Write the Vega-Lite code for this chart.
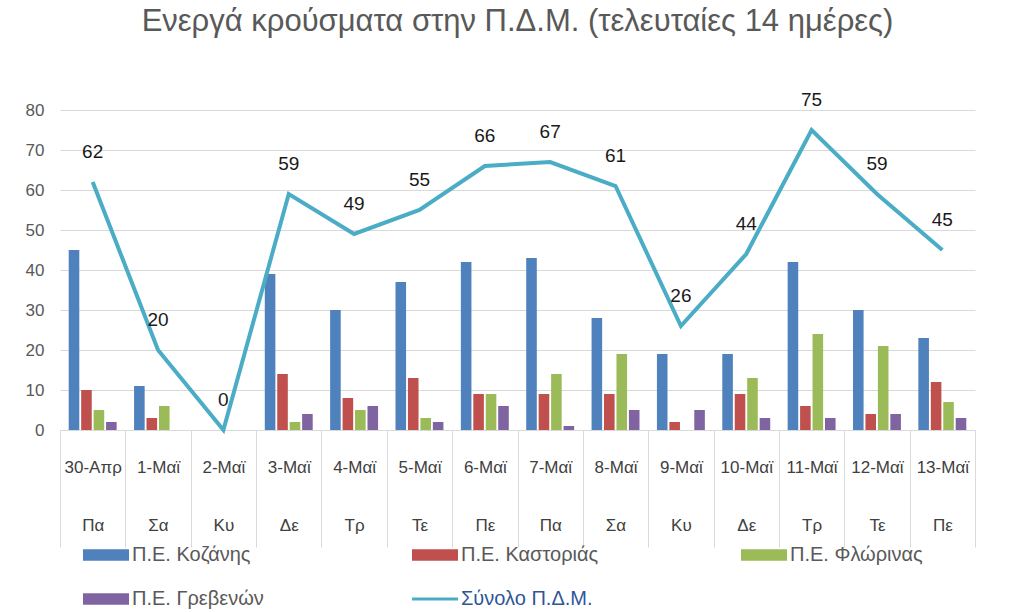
{
  "$schema": "https://vega.github.io/schema/vega-lite/v6.json",
  "autosize": {"type": "none"},
  "padding": {"left": 60, "top": 110, "right": 49, "bottom": 182},
  "width": 915,
  "height": 320,
  "background": "white",
  "title": {
    "text": "Ενεργά κρούσματα στην Π.Δ.Μ. (τελευταίες 14 ημέρες)",
    "font": "Liberation Sans",
    "fontSize": 31,
    "fontWeight": "normal",
    "color": "#595959",
    "anchor": "middle",
    "offset": 53
  },
  "datasets": {
    "regions": [
      {"date": "30-Απρ|Πα", "region": "Π.Ε. Κοζάνης", "value": 45},
      {"date": "30-Απρ|Πα", "region": "Π.Ε. Καστοριάς", "value": 10},
      {"date": "30-Απρ|Πα", "region": "Π.Ε. Φλώρινας", "value": 5},
      {"date": "30-Απρ|Πα", "region": "Π.Ε. Γρεβενών", "value": 2},
      {"date": "1-Μαϊ|Σα", "region": "Π.Ε. Κοζάνης", "value": 11},
      {"date": "1-Μαϊ|Σα", "region": "Π.Ε. Καστοριάς", "value": 3},
      {"date": "1-Μαϊ|Σα", "region": "Π.Ε. Φλώρινας", "value": 6},
      {"date": "1-Μαϊ|Σα", "region": "Π.Ε. Γρεβενών", "value": 0},
      {"date": "2-Μαϊ|Κυ", "region": "Π.Ε. Κοζάνης", "value": 0},
      {"date": "2-Μαϊ|Κυ", "region": "Π.Ε. Καστοριάς", "value": 0},
      {"date": "2-Μαϊ|Κυ", "region": "Π.Ε. Φλώρινας", "value": 0},
      {"date": "2-Μαϊ|Κυ", "region": "Π.Ε. Γρεβενών", "value": 0},
      {"date": "3-Μαϊ|Δε", "region": "Π.Ε. Κοζάνης", "value": 39},
      {"date": "3-Μαϊ|Δε", "region": "Π.Ε. Καστοριάς", "value": 14},
      {"date": "3-Μαϊ|Δε", "region": "Π.Ε. Φλώρινας", "value": 2},
      {"date": "3-Μαϊ|Δε", "region": "Π.Ε. Γρεβενών", "value": 4},
      {"date": "4-Μαϊ|Τρ", "region": "Π.Ε. Κοζάνης", "value": 30},
      {"date": "4-Μαϊ|Τρ", "region": "Π.Ε. Καστοριάς", "value": 8},
      {"date": "4-Μαϊ|Τρ", "region": "Π.Ε. Φλώρινας", "value": 5},
      {"date": "4-Μαϊ|Τρ", "region": "Π.Ε. Γρεβενών", "value": 6},
      {"date": "5-Μαϊ|Τε", "region": "Π.Ε. Κοζάνης", "value": 37},
      {"date": "5-Μαϊ|Τε", "region": "Π.Ε. Καστοριάς", "value": 13},
      {"date": "5-Μαϊ|Τε", "region": "Π.Ε. Φλώρινας", "value": 3},
      {"date": "5-Μαϊ|Τε", "region": "Π.Ε. Γρεβενών", "value": 2},
      {"date": "6-Μαϊ|Πε", "region": "Π.Ε. Κοζάνης", "value": 42},
      {"date": "6-Μαϊ|Πε", "region": "Π.Ε. Καστοριάς", "value": 9},
      {"date": "6-Μαϊ|Πε", "region": "Π.Ε. Φλώρινας", "value": 9},
      {"date": "6-Μαϊ|Πε", "region": "Π.Ε. Γρεβενών", "value": 6},
      {"date": "7-Μαϊ|Πα", "region": "Π.Ε. Κοζάνης", "value": 43},
      {"date": "7-Μαϊ|Πα", "region": "Π.Ε. Καστοριάς", "value": 9},
      {"date": "7-Μαϊ|Πα", "region": "Π.Ε. Φλώρινας", "value": 14},
      {"date": "7-Μαϊ|Πα", "region": "Π.Ε. Γρεβενών", "value": 1},
      {"date": "8-Μαϊ|Σα", "region": "Π.Ε. Κοζάνης", "value": 28},
      {"date": "8-Μαϊ|Σα", "region": "Π.Ε. Καστοριάς", "value": 9},
      {"date": "8-Μαϊ|Σα", "region": "Π.Ε. Φλώρινας", "value": 19},
      {"date": "8-Μαϊ|Σα", "region": "Π.Ε. Γρεβενών", "value": 5},
      {"date": "9-Μαϊ|Κυ", "region": "Π.Ε. Κοζάνης", "value": 19},
      {"date": "9-Μαϊ|Κυ", "region": "Π.Ε. Καστοριάς", "value": 2},
      {"date": "9-Μαϊ|Κυ", "region": "Π.Ε. Φλώρινας", "value": 0},
      {"date": "9-Μαϊ|Κυ", "region": "Π.Ε. Γρεβενών", "value": 5},
      {"date": "10-Μαϊ|Δε", "region": "Π.Ε. Κοζάνης", "value": 19},
      {"date": "10-Μαϊ|Δε", "region": "Π.Ε. Καστοριάς", "value": 9},
      {"date": "10-Μαϊ|Δε", "region": "Π.Ε. Φλώρινας", "value": 13},
      {"date": "10-Μαϊ|Δε", "region": "Π.Ε. Γρεβενών", "value": 3},
      {"date": "11-Μαϊ|Τρ", "region": "Π.Ε. Κοζάνης", "value": 42},
      {"date": "11-Μαϊ|Τρ", "region": "Π.Ε. Καστοριάς", "value": 6},
      {"date": "11-Μαϊ|Τρ", "region": "Π.Ε. Φλώρινας", "value": 24},
      {"date": "11-Μαϊ|Τρ", "region": "Π.Ε. Γρεβενών", "value": 3},
      {"date": "12-Μαϊ|Τε", "region": "Π.Ε. Κοζάνης", "value": 30},
      {"date": "12-Μαϊ|Τε", "region": "Π.Ε. Καστοριάς", "value": 4},
      {"date": "12-Μαϊ|Τε", "region": "Π.Ε. Φλώρινας", "value": 21},
      {"date": "12-Μαϊ|Τε", "region": "Π.Ε. Γρεβενών", "value": 4},
      {"date": "13-Μαϊ|Πε", "region": "Π.Ε. Κοζάνης", "value": 23},
      {"date": "13-Μαϊ|Πε", "region": "Π.Ε. Καστοριάς", "value": 12},
      {"date": "13-Μαϊ|Πε", "region": "Π.Ε. Φλώρινας", "value": 7},
      {"date": "13-Μαϊ|Πε", "region": "Π.Ε. Γρεβενών", "value": 3}
    ],
    "totals": [
      {"date": "30-Απρ|Πα", "value": 62},
      {"date": "1-Μαϊ|Σα", "value": 20},
      {"date": "2-Μαϊ|Κυ", "value": 0},
      {"date": "3-Μαϊ|Δε", "value": 59},
      {"date": "4-Μαϊ|Τρ", "value": 49},
      {"date": "5-Μαϊ|Τε", "value": 55},
      {"date": "6-Μαϊ|Πε", "value": 66},
      {"date": "7-Μαϊ|Πα", "value": 67},
      {"date": "8-Μαϊ|Σα", "value": 61},
      {"date": "9-Μαϊ|Κυ", "value": 26},
      {"date": "10-Μαϊ|Δε", "value": 44},
      {"date": "11-Μαϊ|Τρ", "value": 75},
      {"date": "12-Μαϊ|Τε", "value": 59},
      {"date": "13-Μαϊ|Πε", "value": 45}
    ]
  },
  "encoding": {
    "x": {
      "field": "date",
      "type": "nominal",
      "scale": {
        "domain": ["30-Απρ|Πα", "1-Μαϊ|Σα", "2-Μαϊ|Κυ", "3-Μαϊ|Δε", "4-Μαϊ|Τρ", "5-Μαϊ|Τε", "6-Μαϊ|Πε", "7-Μαϊ|Πα", "8-Μαϊ|Σα", "9-Μαϊ|Κυ", "10-Μαϊ|Δε", "11-Μαϊ|Τρ", "12-Μαϊ|Τε", "13-Μαϊ|Πε"],
        "paddingInner": 0,
        "paddingOuter": 0
      },
      "axis": {
        "title": null,
        "labelAngle": 0,
        "labelExpr": "isValid(datum.value) ? [split(datum.value, '|')[0], split(datum.value, '|')[1]] : ''",
        "labelLineHeight": 58,
        "labelFont": "Liberation Sans",
        "labelFontSize": 17,
        "labelColor": "#404040",
        "labelOverlap": false,
        "labelLimit": 0,
        "labelPadding": -88,
        "labelBaseline": "top",
        "tickBand": "extent",
        "tickSize": 117,
        "tickColor": "#d9d9d9",
        "domainColor": "#d9d9d9",
        "grid": false
      }
    },
    "y": {
      "field": "value",
      "type": "quantitative",
      "scale": {"domain": [0, 80]},
      "axis": {
        "title": null,
        "values": [0, 10, 20, 30, 40, 50, 60, 70, 80],
        "labelOverlap": false,
        "domain": false,
        "ticks": false,
        "labelPadding": 16,
        "labelFont": "Liberation Sans",
        "labelFontSize": 17,
        "labelColor": "#595959",
        "gridColor": "#d9d9d9"
      }
    }
  },
  "layer": [
    {
      "data": {"name": "regions"},
      "mark": {"type": "bar"},
      "encoding": {
        "xOffset": {
          "field": "region",
          "type": "nominal",
          "scale": {
            "domain": ["Π.Ε. Κοζάνης", "Π.Ε. Καστοριάς", "Π.Ε. Φλώρινας", "Π.Ε. Γρεβενών"],
            "paddingInner": 0.15,
            "paddingOuter": 0.7
          }
        },
        "color": {
          "field": "region",
          "type": "nominal",
          "scale": {
            "domain": ["Π.Ε. Κοζάνης", "Π.Ε. Καστοριάς", "Π.Ε. Φλώρινας", "Π.Ε. Γρεβενών", "Σύνολο Π.Δ.Μ."],
            "range": ["#4f81bd", "#c0504d", "#9bbb59", "#8064a2", "#4bacc6"]
          },
          "legend": {
            "title": null,
            "orient": "none",
            "direction": "horizontal",
            "legendX": 36,
            "legendY": 435,
            "columns": 3,
            "gridAlign": "all",
            "columnPadding": 136,
            "rowPadding": 24,
            "padding": 0,
            "symbolSize": 2116,
            "labelOffset": 16,
            "labelFont": "Liberation Sans",
            "labelFontSize": 20,
            "labelLimit": 0,
            "encode": {
              "symbols": {
                "update": {
                  "shape": {"signal": "datum.label === 'Σύνολο Π.Δ.Μ.' ? 'M-1,0H1' : 'M-1,-0.25H1V0.25H-1Z'"},
                  "fill": {"signal": "datum.label === 'Σύνολο Π.Δ.Μ.' ? 'transparent' : scale('color', datum.value)"},
                  "stroke": {"signal": "scale('color', datum.value)"},
                  "strokeWidth": {"signal": "datum.label === 'Σύνολο Π.Δ.Μ.' ? 3 : 0"},
                  "opacity": {"value": 1}
                }
              },
              "labels": {
                "update": {
                  "fill": {"signal": "datum.label === 'Σύνολο Π.Δ.Μ.' ? '#2f5597' : '#595959'"}
                }
              }
            }
          }
        }
      }
    },
    {
      "data": {"name": "totals"},
      "mark": {"type": "line", "strokeWidth": 4},
      "encoding": {
        "color": {"datum": "Σύνολο Π.Δ.Μ."}
      }
    },
    {
      "data": {"name": "totals"},
      "mark": {"type": "text", "dy": -30, "font": "Liberation Sans", "fontSize": 19, "color": "#1a1a1a"},
      "encoding": {
        "text": {"field": "value", "type": "quantitative"}
      }
    }
  ],
  "config": {
    "view": {"stroke": null}
  }
}
